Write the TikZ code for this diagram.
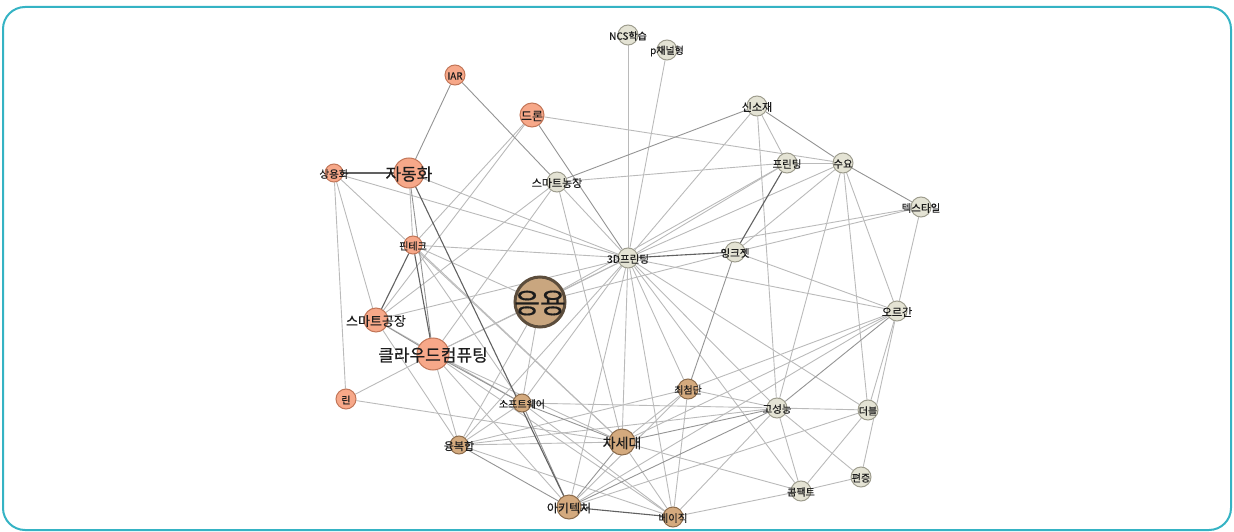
\documentclass[tikz,border=0pt]{standalone}
\usepackage{fontspec}
\newfontfamily\kr{Noto Sans CJK KR}[FakeBold=0.35]
\usetikzlibrary{backgrounds}
\definecolor{frameC}{HTML}{35B3C4}
\definecolor{salF}{HTML}{F7A889}
\definecolor{salD}{HTML}{C27658}
\definecolor{tanF}{HTML}{D4AA7E}
\definecolor{tanD}{HTML}{8C6C4C}
\definecolor{gryF}{HTML}{E4E3D4}
\definecolor{gryD}{HTML}{9E9D8E}
\definecolor{hubF}{HTML}{C9A67F}
\definecolor{hubD}{HTML}{5C4D3C}
\definecolor{txtC}{HTML}{1C1C1C}
\tikzset{
  nd/.style={circle, line width=1pt, inner sep=0pt, minimum size=#1},
  sal/.style={nd=#1, fill=salF, draw=salD},
  tann/.style={nd=#1, fill=tanF, draw=tanD},
  gry/.style={nd=#1, fill=gryF, draw=gryD},
  lbl/.style={font=\kr\fontsize{#1}{#1}\selectfont, text=txtC, inner sep=0pt, yshift=-1pt},
  lk/.style={draw=black!27, line width=0.9pt},
  lkm/.style={draw=black!42, line width=0.9pt},
  lkd/.style={draw=black!62, line width=1.1pt},
  frame/.style={draw=frameC, line width=2pt, rounded corners=22pt},
}
\begin{document}
\begin{tikzpicture}[x=1pt,y=-1pt]
\useasboundingbox (0,0) rectangle (1234,532);
\draw[frame] (3,7) rectangle (1231,530);

% nodes
\node[gry=20]  (ncs) at (628,35)  {};
\node[gry=20]  (pch) at (667,50)  {};
\node[sal=20]  (iar) at (455,75)  {};
\node[sal=24]  (drn) at (532,115) {};
\node[gry=20]  (ssj) at (757,106) {};
\node[gry=20]  (prt) at (787,163) {};
\node[gry=20]  (suy) at (843,163) {};
\node[sal=18]  (syh) at (334,173) {};
\node[sal=30]  (adh) at (409,173) {};
\node[gry=20]  (sfm) at (557,182) {};
\node[gry=20]  (txt) at (921,207) {};
\node[sal=18]  (fin) at (413,245) {};
\node[gry=20]  (d3p) at (628,258) {};
\node[gry=20]  (ink) at (735,252) {};
\node[nd=50, fill=hubF, draw=hubD, line width=3pt] (euy) at (540,302) {};
\node[gry=20]  (org) at (897,311) {};
\node[sal=24]  (sfc) at (376,320) {};
\node[sal=32]  (cld) at (433,354) {};
\node[sal=20]  (lin) at (346,399) {};
\node[tann=18] (sw)  at (522,403) {};
\node[tann=20] (ccd) at (688,389) {};
\node[gry=20]  (gsn) at (777,408) {};
\node[gry=20]  (dbl) at (868,410) {};
\node[tann=18] (yb)  at (459,445) {};
\node[tann=26] (csd) at (622,442) {};
\node[gry=20]  (pj)  at (861,477) {};
\node[gry=20]  (cmp) at (801,491) {};
\node[tann=24] (arc) at (569,507) {};
\node[tann=20] (bsc) at (673,517) {};

% links
\begin{pgfonlayer}{background}
\foreach \a/\b in {ncs/d3p, pch/d3p, drn/suy, drn/fin, drn/sfc, syh/sfc, syh/csd,
  syh/d3p, syh/lin, adh/fin, adh/d3p, sfm/prt, sfm/d3p, sfm/sfc, sfm/cld, sfm/csd,
  ssj/prt, ssj/d3p, ssj/gsn, prt/suy, prt/d3p, prt/euy, suy/org, suy/dbl, suy/ink,
  suy/d3p, suy/gsn, txt/org, txt/d3p, txt/ink, d3p/euy, d3p/fin, d3p/sfc, d3p/cld,
  d3p/sw, d3p/yb, d3p/csd, d3p/arc, d3p/bsc, d3p/ccd, d3p/gsn, d3p/dbl, d3p/org,
  d3p/cmp, ink/org, ink/euy, euy/cld, euy/sw, euy/yb, euy/fin, org/ccd, org/dbl,
  org/pj, org/csd, org/arc, fin/sw, fin/csd, sfc/sw, sfc/yb, cld/lin, cld/yb,
  cld/arc, cld/bsc, cld/csd, sw/yb, sw/gsn, sw/bsc, yb/csd, yb/ccd, yb/gsn, yb/bsc,
  csd/ccd, csd/bsc, csd/cmp, arc/ccd, bsc/gsn, bsc/ccd, bsc/cmp, ccd/gsn, gsn/dbl,
  gsn/cmp, gsn/pj, dbl/cmp, pj/cmp, dbl/arc, lin/csd}
  \draw[lk] (\a) -- (\b);
\foreach \a/\b in {iar/adh, iar/sfm, drn/d3p, adh/cld, sfm/ssj, ssj/suy, suy/txt,
  ink/ccd, org/gsn, sfc/cld, cld/sw, csd/gsn, arc/gsn, sw/csd, sw/arc, yb/arc, csd/arc}
  \draw[lkm] (\a) -- (\b);
\foreach \a/\b in {syh/adh, adh/arc, prt/ink, d3p/ink, fin/sfc, fin/cld, arc/bsc}
  \draw[lkd] (\a) -- (\b);
\end{pgfonlayer}

% labels
\node[lbl=10]   (ncs-t) at (ncs) {NCS학습};
\node[lbl=10]   (pch-t) at (pch) {p채널형};
\node[lbl=10]   (iar-t) at (iar) {IAR};
\node[lbl=12]   (drn-t) at (drn) {드론};
\node[lbl=11]   (ssj-t) at (ssj) {신소재};
\node[lbl=10.5] (prt-t) at (prt) {프린팅};
\node[lbl=10.5] (suy-t) at (suy) {수요};
\node[lbl=10.5] (syh-t) at (syh) {상용화};
\node[lbl=17]   (adh-t) at (adh) {자동화};
\node[lbl=11]   (sfm-t) at (sfm) {스마트농장};
\node[lbl=10.5] (txt-t) at (txt) {텍스타일};
\node[lbl=10]   (fin-t) at (fin) {핀테크};
\node[lbl=10.5] (d3p-t) at (d3p) {3D프린팅};
\node[lbl=10.5] (ink-t) at (ink) {잉크젯};
\node[lbl=28]   (euy-t) at (euy) {응용};
\node[lbl=11]   (org-t) at (org) {오르간};
\node[lbl=13]   (sfc-t) at (sfc) {스마트공장};
\node[lbl=17]   (cld-t) at (cld) {클라우드컴퓨팅};
\node[lbl=10]   (lin-t) at (lin) {린};
\node[lbl=10]   (sw-t)  at (sw)  {소프트웨어};
\node[lbl=10]   (ccd-t) at (ccd) {최첨단};
\node[lbl=10.5] (gsn-t) at (gsn) {고성능};
\node[lbl=10]   (dbl-t) at (dbl) {더블};
\node[lbl=11]   (yb-t)  at (yb)  {융복합};
\node[lbl=14]   (csd-t) at (csd) {차세대};
\node[lbl=10]   (pj-t)  at (pj)  {편증};
\node[lbl=10]   (cmp-t) at (cmp) {콤팩트};
\node[lbl=12]   (arc-t) at (arc) {아키텍처};
\node[lbl=10.5] (bsc-t) at (bsc) {베이직};
\end{tikzpicture}
\end{document}
